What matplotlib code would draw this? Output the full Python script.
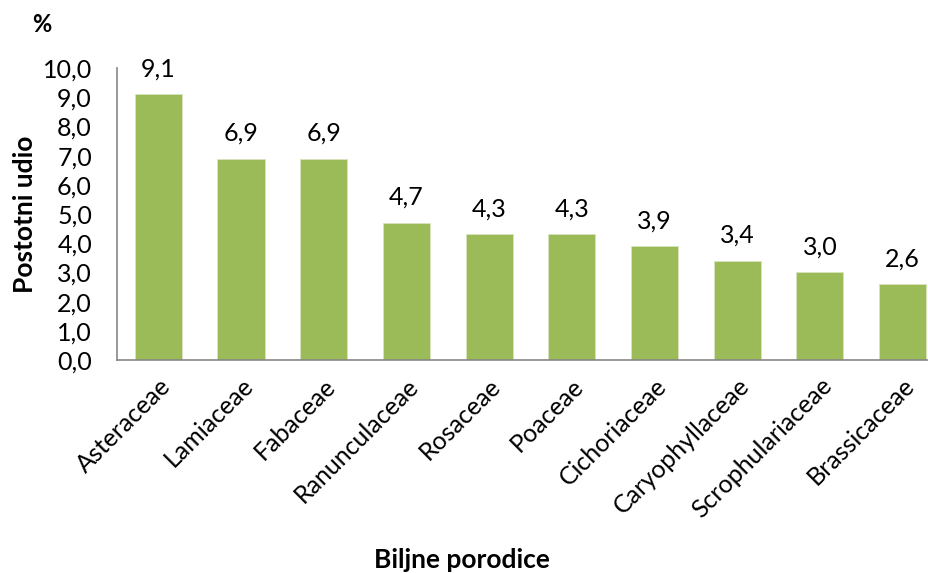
import matplotlib.pyplot as plt
import numpy as np

plt.rcParams['font.family'] = ['Lato', 'DejaVu Sans']

families = ['Asteraceae', 'Lamiaceae', 'Fabaceae', 'Ranunculaceae', 'Rosaceae',
            'Poaceae', 'Cichoriaceae', 'Caryophyllaceae', 'Scrophulariaceae', 'Brassicaceae']
shares = [9.1, 6.9, 6.9, 4.7, 4.3, 4.3, 3.9, 3.4, 3.0, 2.6]
yticks = np.arange(0, 11, 1)

fig = plt.figure(figsize=(9.29, 5.73), dpi=100)
ax = fig.add_axes([117/929, (573-360)/573, (929-117)/929, (360-68)/573])

x = np.arange(len(families))
ax.bar(x, shares, width=0.57, color='#9BBB59', edgecolor='#D7E4BD', linewidth=0.6)

for xi, v in zip(x, shares):
    ax.annotate('{:.1f}'.format(v).replace('.', ','), (xi, v), xytext=(0, 10),
                textcoords='offset points', ha='center', va='bottom', fontsize=18)

ax.set_xlim(-0.5, 9.32)
ax.set_ylim(0, 10)
ax.set_yticks(yticks)
ax.set_yticklabels(['{:.1f}'.format(t).replace('.', ',') for t in yticks], fontsize=18)
ax.set_xticks(x)
ax.set_xticklabels(families, rotation=45, ha='right', va='top', rotation_mode='anchor', fontsize=18)
ax.tick_params(axis='y', length=0, pad=18)
ax.tick_params(axis='x', length=0, pad=10)

for s in ['top', 'right']:
    ax.spines[s].set_visible(False)
for s in ['left', 'bottom']:
    ax.spines[s].set_color('#868686')
    ax.spines[s].set_linewidth(1.2)

ax.set_ylabel('Postotni udio', fontsize=19, fontweight='bold')
ax.yaxis.set_label_coords(-0.098, 0.5)
fig.text(462/929, 1 - 560/573, 'Biljne porodice', ha='center', va='center', fontsize=19, fontweight='bold')
fig.text(42/929, 1 - 25/573, '%', ha='center', va='center', fontsize=17, fontweight='bold')

fig.savefig('out.png', dpi=100)
